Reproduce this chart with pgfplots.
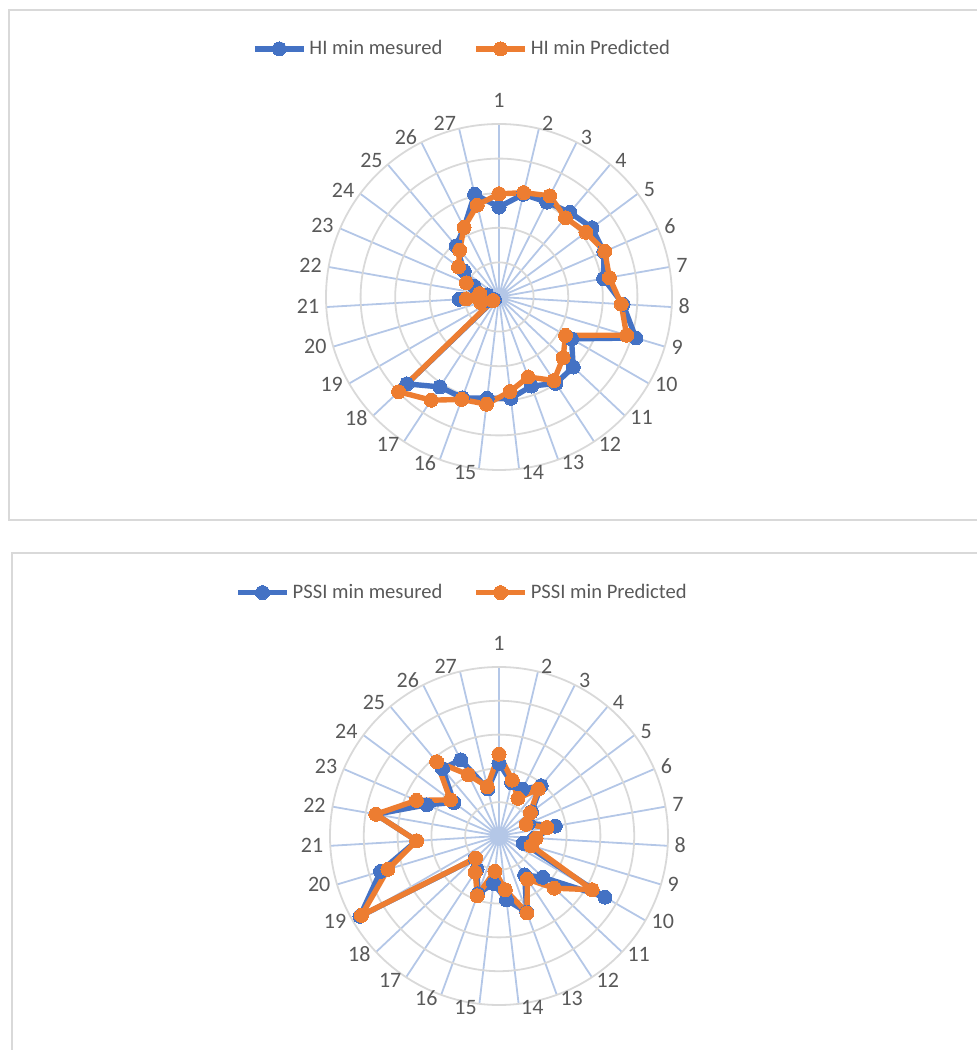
\documentclass[border=0pt]{standalone}
\usepackage{fontspec}
\setmainfont{Carlito}
\usepackage{pgfplots}
\pgfplotsset{compat=1.18}
\usepgfplotslibrary{polar}
\usepackage{pgfplotstable}
\definecolor{sblue}{HTML}{4472C4}
\definecolor{sorange}{HTML}{ED7D31}
\definecolor{ring}{HTML}{D9D9D9}
\definecolor{spoke}{HTML}{B4C7E7}
\definecolor{txt}{HTML}{595959}

\pgfplotstableread{
k  meas  pred
1  2.60  2.98
2  3.05  3.10
3  3.07  3.27
4  3.19  2.99
5  3.35  3.13
6  3.30  3.33
7  3.07  3.24
8  3.59  3.54
9  4.13  3.85
10 2.42  2.22
11 2.95  2.55
12 2.99  2.89
13 2.74  2.46
14 2.95  2.75
15 2.95  3.12
16 3.10  3.15
17 3.11  3.57
18 3.66  3.99
19 0.15  0.20
20 0.35  0.55
21 1.15  0.95
22 0.35  0.57
23 0.78  1.03
24 1.25  1.46
25 1.93  1.77
26 2.25  2.25
27 3.05  2.73
28 2.60  2.98
}\hitable

\pgfplotstableread{
k  meas  pred
1  2.15  2.42
2  1.62  1.70
3  1.55  1.25
4  1.94  1.81
5  1.20  1.16
6  0.95  0.87
7  1.69  1.44
8  1.05  1.10
9  0.75  1.00
10 3.62  3.18
11 1.78  2.25
12 1.38  1.53
13 2.40  2.42
14 1.90  1.60
15 1.41  1.05
16 1.82  1.88
17 1.18  1.28
18 0.97  0.95
19 4.75  4.70
20 3.66  3.43
21 2.44  2.44
22 3.70  3.70
23 2.33  2.66
24 1.66  1.79
25 2.60  2.87
26 2.52  2.03
27 1.43  1.50
28 2.15  2.42
}\pssitable

\pgfplotsset{
  radar/.style={
    scale only axis,
    anchor=center,
    clip=false,
    ymin=0, ymax=5,
    ytick={1,2,3,4},
    yticklabels={},
    ymajorgrids,
    y grid style={ring, line width=0.9pt},
    xtick={90,76.6667,63.3333,50,36.6667,23.3333,10,356.6667,343.3333,330,316.6667,303.3333,290,276.6667,263.3333,250,236.6667,223.3333,210,196.6667,183.3333,170,156.6667,143.3333,130,116.6667,103.3333},
    xticklabels={1,2,3,4,5,6,7,8,9,10,11,12,13,14,15,16,17,18,19,20,21,22,23,24,25,26,27},
    xmajorgrids,
    x grid style={spoke, line width=0.9pt},
    major tick length=0pt,
    axis line style={ring, line width=0.9pt},
    y axis line style={draw=none},
    xticklabel style={font=\fontsize{11}{13}\selectfont, text=txt, inner sep=0pt, anchor=center,
      xshift={(\tick==90 ? 0 : ((cos(\tick)>0 ? 1 : -1)*(1+2.5*abs(cos(\tick))+((\tick<80 || \tick>340) ? 2.79 : 5.58))))*1pt},
      yshift={(\tick==90 ? 12 : 0.5+2.25*sin(\tick))*1pt}},
    legend columns=2,
    legend style={draw=none, fill=none, font=\fontsize{10.3}{12}\selectfont, text=txt,
      anchor=center,
      /tikz/every even column/.append style={column sep=14pt},
      nodes={inner sep=1.5pt}},
    legend image code/.code={\draw[##1, mark repeat=2, mark phase=2] plot coordinates {(0pt,0pt) (12.25pt,0pt) (24.5pt,0pt)};},
  },
  ser/.style={color=#1, line width=2.7pt, line join=round, mark=*, mark size=3.5pt, mark options={solid, fill=#1, draw=#1, line width=0pt}},
}

\begin{document}
\begin{tikzpicture}
\useasboundingbox (0pt,0pt) rectangle (488pt,525pt);
\draw[ring, line width=0.9pt] (4.5pt,520pt) rectangle (495pt,265pt);
\draw[ring, line width=0.9pt] (6pt,248.5pt) rectangle (495pt,-10pt);

\begin{polaraxis}[radar, at={(249.5pt,376.5pt)}, width=173pt, height=173pt,
  legend style={at={(0.3945,1.217)}}]
\addplot[ser=sblue] table[x expr={90-(\thisrow{k}-1)*40/3}, y=meas] {\hitable};
\addlegendentry{HI min mesured}
\addplot[ser=sorange] table[x expr={90-(\thisrow{k}-1)*40/3}, y=pred] {\hitable};
\addlegendentry{HI min Predicted}
\end{polaraxis}

\begin{polaraxis}[radar, at={(249.5pt,107pt)}, width=169pt, height=169pt,
  legend style={at={(0.392,1.22)}}]
\addplot[ser=sblue] table[x expr={90-(\thisrow{k}-1)*40/3}, y=meas] {\pssitable};
\addlegendentry{PSSI min mesured}
\addplot[ser=sorange] table[x expr={90-(\thisrow{k}-1)*40/3}, y=pred] {\pssitable};
\addlegendentry{PSSI min Predicted}
\end{polaraxis}
\end{tikzpicture}
\end{document}
